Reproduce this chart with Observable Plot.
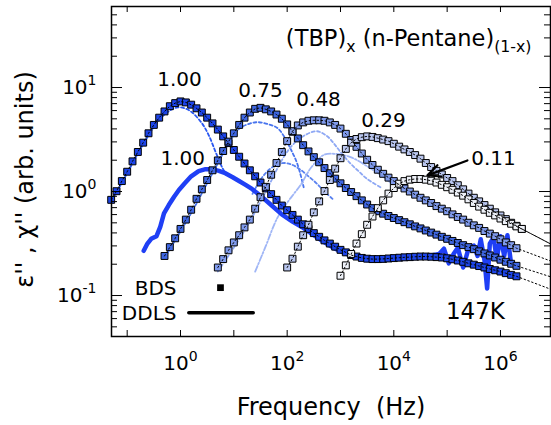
<!DOCTYPE html>
<html><head><meta charset="utf-8">
<script src="https://cdn.jsdelivr.net/npm/d3@7"></script>
<script src="https://cdn.jsdelivr.net/npm/@observablehq/plot@0.6"></script>
<style>
body{margin:0;background:#fff;}
#chart svg{display:block;}
</style>
</head><body><div id="chart"></div>
<script>
// ---------- data ----------
// measurement frequency grid, log10(Hz)
const logFreqGrid = [-1.3,-1.2,-1.1,-1.0,-0.9,-0.8,-0.7,-0.6,-0.5,-0.4,-0.3,-0.2,-0.1,0.0,0.1,0.2,0.3,0.4,0.5,0.6,0.7,0.8,0.9,1.0,1.1,1.2,1.3,1.4,1.5,1.6,1.7,1.8,1.9,2.0,2.1,2.2,2.3,2.4,2.5,2.6,2.7,2.8,2.9,3.0,3.1,3.2,3.3,3.4,3.5,3.6,3.7,3.8,3.9,4.0,4.1,4.2,4.3,4.4,4.5,4.6,4.7,4.8,4.9,5.0,5.1,5.2,5.3,5.4,5.5,5.6,5.7,5.8,5.9,6.0,6.1,6.2,6.3,6.4];

const seriesLabels = ["1.00","0.75","0.48","0.29","0.11"];
const seriesFirstIndex = [0, 10, 20, 33, 43];

const eps100 = [0.832,1.007,1.26,1.55,1.95,2.40,2.95,3.63,4.37,5.13,5.89,6.61,7.08,7.35,7.19,6.84,6.31,5.75,5.13,4.52,3.94,3.39,2.92,2.51,2.16,1.86,1.60,1.40,1.22,1.07,0.944,0.832,0.733,0.661,0.596,0.537,0.484,0.437,0.398,0.367,0.339,0.316,0.295,0.275,0.260,0.245,0.237,0.230,0.226,0.224,0.224,0.225,0.227,0.229,0.231,0.233,0.234,0.236,0.237,0.237,0.236,0.234,0.232,0.228,0.223,0.217,0.211,0.204,0.198,0.192,0.186,0.180,0.175,0.170,0.164,0.158,0.153];
const eps075 = [0.240,0.292,0.355,0.437,0.537,0.668,0.851,1.05,1.29,1.60,1.99,2.45,3.02,3.63,4.37,5.13,5.75,6.24,6.38,6.17,5.89,5.50,5.01,4.42,3.76,3.24,2.79,2.43,2.14,1.91,1.68,1.50,1.33,1.20,1.08,0.989,0.902,0.822,0.750,0.692,0.646,0.612,0.582,0.556,0.531,0.507,0.484,0.462,0.442,0.422,0.403,0.385,0.367,0.351,0.335,0.320,0.305,0.292,0.279,0.266,0.254,0.243,0.232,0.221,0.211,0.202,0.193];
const eps048 = [0.186,0.224,0.272,0.324,0.380,0.452,0.537,0.684,0.881,1.11,1.45,1.88,2.40,3.05,3.80,4.32,4.62,4.79,4.84,4.84,4.79,4.62,4.37,4.03,3.59,3.13,2.69,2.32,2.02,1.80,1.62,1.48,1.36,1.26,1.16,1.07,1.00,0.933,0.871,0.822,0.776,0.724,0.684,0.646,0.603,0.569,0.537,0.501,0.473,0.447,0.417,0.394,0.372,0.347,0.324,0.305,0.285];
const eps029 = [0.186,0.226,0.295,0.380,0.479,0.631,0.804,1.01,1.29,1.66,2.09,2.57,2.95,3.20,3.33,3.39,3.35,3.26,3.16,3.05,2.88,2.70,2.54,2.40,2.24,2.07,1.88,1.72,1.58,1.46,1.35,1.26,1.15,1.05,0.955,0.871,0.804,0.741,0.684,0.631,0.589,0.543,0.501,0.468,0.437];
const eps011 = [0.155,0.195,0.251,0.316,0.389,0.479,0.575,0.692,0.822,0.955,1.08,1.19,1.26,1.30,1.32,1.32,1.30,1.27,1.22,1.16,1.10,1.04,0.977,0.912,0.841,0.776,0.716,0.668,0.624,0.589,0.550,0.519,0.490,0.462,0.437];
const seriesValues = [eps100, eps075, eps048, eps029, eps011];

// fitted curves continue past the last point (value at 1e7 Hz)
const fitTailFreq = 1e7;
const fitTailEps = [0.112, 0.148, 0.209, 0.302, 0.302];

// DDLS susceptibility, x = 1.00
const ddlsLogF = [-0.69,-0.62,-0.55,-0.45,-0.38,-0.31,-0.22,-0.12,-0.03,0.08,0.2,0.34,0.47,0.59,0.72,0.84,0.97,1.09,1.22,1.34,1.5,1.7,1.9,2.1,2.3,2.5,2.7,2.9,3.2,3.5,3.8,4.1,4.4,4.7,4.85,4.94,5.03,5.12,5.2,5.3,5.4,5.5,5.57,5.63,5.7,5.75,5.8,5.87,5.93,6.0,6.07,6.13,6.2];
const ddlsEps = [0.269,0.316,0.351,0.372,0.457,0.617,0.741,0.891,1.035,1.20,1.40,1.57,1.64,1.64,1.58,1.50,1.38,1.27,1.16,1.06,0.912,0.741,0.603,0.513,0.447,0.380,0.324,0.282,0.240,0.219,0.220,0.229,0.240,0.243,0.251,0.282,0.204,0.251,0.288,0.186,0.282,0.302,0.240,0.347,0.219,0.117,0.316,0.363,0.224,0.372,0.240,0.380,0.200];

// model components [log10 f, eps]
const model100 = [[-1.3,0.80],[-1.0,1.5],[-0.7,2.85],[-0.4,4.9],[-0.2,6.0],[-0.05,6.45],[0.1,6.25],[0.22,5.75],[0.41,4.47],[0.53,3.47],[0.66,2.39],[0.78,1.71],[0.86,1.45]];
const model075 = [[-0.3,0.23],[0.2,0.62],[0.6,1.5],[1.0,3.5],[1.125,4.1],[1.3,4.5],[1.44,4.64],[1.6,4.5],[1.81,4.1],[1.94,3.4],[2.06,2.6],[2.19,1.85],[2.31,1.1]];
const model075b = [[1.35,0.95],[1.5,1.3],[1.65,1.6],[1.8,1.8],[1.95,1.88],[2.1,1.8],[2.25,1.62],[2.4,1.4],[2.55,1.2],[2.7,1.0],[2.85,0.85]];
const model048 = [[0.7,0.17],[1.2,0.42],[1.6,1.0],[1.9,2.0],[2.1,2.8],[2.3,3.4],[2.55,3.8],[2.75,3.4],[2.875,2.9],[3.0,2.4],[3.19,1.85],[3.35,1.55],[3.5,1.32],[3.75,1.1]];
const model048b = [[1.4,0.17],[1.6,0.3],[1.81,0.55],[2.0,0.78],[2.125,0.95],[2.25,1.15],[2.45,1.7],[2.69,2.25],[2.9,2.3],[3.19,2.14],[3.5,1.75],[3.81,1.37],[4.0,1.15]];

// annotations
const curveLabels = ["1.00","1.00","0.75","0.48","0.29","0.11"];
const curveLabelFreq = [0.955, 1.10, 31.6, 388, 6400, 7.4e5];
const curveLabelEps = [11.8, 2.08, 9.35, 7.67, 4.82, 2.08];
const arrow011 = {x1: 2.4e5, y1: 1.99, x2: 4.27e4, y2: 1.43};
const legendLabels = ["BDS","DDLS"];
const legendTextFreq = [0.841, 0.841];
const legendTextEps = [0.117, 0.0671];
const legendSquare = {f: 5.62, eps: 0.119};
const legendLine = [{f: 1.43, eps: 0.0682}, {f: 23.1, eps: 0.0682}];
const tempLabel = {text: "147K", f: 3.39e5, eps: 0.0702};

const title = "(TBP)_{x} (n-Pentane)_{(1-x)}";
const xLabel = "Frequency\u00a0 (Hz)";
const yLabel = "ε'' , χ'' (arb. units)";
const xTickLabels = [1, 100, 1e4, 1e6];
const xTickExp = ["0","2","4","6"];
const xMajorTicks = [0.1, 1, 10, 100, 1e3, 1e4, 1e5, 1e6];
const yTickLabels = [0.1, 1, 10];
const yTickExp = ["-1","0","1"];
const yMinorTicks = [0.05,0.06,0.07,0.08,0.09,0.2,0.3,0.4,0.5,0.6,0.7,0.8,0.9,2,3,4,5,6,7,8,9,20,30,40,50];

// ---------- styles ----------
const seriesColors = ["#1d45e8", "#3f67e2", "#7f9aec", "#b9c6ef", "#eef1f8"];

// ---------- build tables ----------
const rows = [];
seriesLabels.forEach((lab, s) => {
  seriesValues[s].forEach((v, i) => rows.push({series: lab, f: 10 ** logFreqGrid[seriesFirstIndex[s] + i], eps: v}));
});
const fitRows = [];
seriesLabels.forEach((lab, s) => {
  rows.filter(r => r.series === lab).forEach(r => fitRows.push(r));
  fitRows.push({series: lab, f: fitTailFreq, eps: fitTailEps[s]});
});
const ddls = ddlsLogF.map((lf, i) => ({f: 10 ** lf, eps: ddlsEps[i]}));
const toRows = arr => arr.map(([lf, e]) => ({f: 10 ** lf, eps: e}));
const labelRows = curveLabels.map((t, i) => ({text: t, f: curveLabelFreq[i], eps: curveLabelEps[i]}));
const legendRows = legendLabels.map((t, i) => ({text: t, f: legendTextFreq[i], eps: legendTextEps[i]}));

const W = 551, H = 425, mL = 111, mR = 1, mT = 6, mB = 89;
const plotW = W - mL - mR, plotH = H - mT - mB;
const xDomain = [10 ** -1.294, 10 ** 6.938];
const yDomain = [10 ** -1.394, 10 ** 1.779];

const chart = Plot.plot({
  width: W, height: H,
  marginLeft: mL, marginRight: mR, marginTop: mT, marginBottom: mB,
  style: {fontFamily: '"DejaVu Sans", sans-serif', fontSize: "20px", color: "black", background: "white"},
  x: {type: "log", domain: xDomain, axis: null},
  y: {type: "log", domain: yDomain, axis: null},
  marks: [
    // model components
    Plot.line(toRows(model100), {x: "f", y: "eps", stroke: "#2a58f2", strokeWidth: 1.8, strokeDasharray: "3,2.5", curve: "catmull-rom", clip: true}),
    Plot.line(toRows(model075), {x: "f", y: "eps", stroke: "#4874ee", strokeWidth: 1.8, strokeDasharray: "3,2.5", curve: "catmull-rom", clip: true}),
    Plot.line(toRows(model075b), {x: "f", y: "eps", stroke: "#5a82f0", strokeWidth: 1.8, strokeDasharray: "3,2.5", curve: "catmull-rom", clip: true}),
    Plot.line(toRows(model048), {x: "f", y: "eps", stroke: "#8ea8f4", strokeWidth: 1.8, strokeDasharray: "3,2.5", curve: "catmull-rom", clip: true}),
    Plot.line(toRows(model048b), {x: "f", y: "eps", stroke: "#a0b6f6", strokeWidth: 1.8, strokeDasharray: "6,2,1.5,2", curve: "catmull-rom", clip: true}),
    // DDLS
    Plot.line(ddls, {x: "f", y: "eps", stroke: "#1f3ff5", strokeWidth: 4.5, strokeLinejoin: "round", strokeLinecap: "round", clip: true}),
    // BDS squares
    ...seriesLabels.map((lab, s) => Plot.dot(rows.filter(r => r.series === lab), {x: "f", y: "eps", symbol: "square", r: 3.9, fill: seriesColors[s], stroke: "black", strokeWidth: 1})),
    // fits
    Plot.line(fitRows, {x: "f", y: "eps", z: "series", stroke: "black", strokeWidth: 1, strokeDasharray: "1.5,2.5", clip: true}),
    // curve labels
    Plot.text(labelRows, {x: "f", y: "eps", text: "text", fontSize: 20, textAnchor: "middle", lineAnchor: "middle"}),
    Plot.arrow([arrow011], {x1: "x1", y1: "y1", x2: "x2", y2: "y2", stroke: "black", strokeWidth: 2.2, headLength: 12, headAngle: 50}),
    // legend
    Plot.text(legendRows, {x: "f", y: "eps", text: "text", fontSize: 20, textAnchor: "end", lineAnchor: "middle"}),
    Plot.dot([legendSquare], {x: "f", y: "eps", symbol: "square", r: 3.8, fill: "black"}),
    Plot.line(legendLine, {x: "f", y: "eps", stroke: "black", strokeWidth: 3.5}),
    Plot.text([tempLabel], {x: "f", y: "eps", text: "text", fontSize: 23, textAnchor: "middle", lineAnchor: "middle"}),
    // title
    Plot.text([title], {frameAnchor: "top-right", dx: -19, dy: 39, textAnchor: "end", lineAnchor: "bottom", fontSize: 22.5}),
    // ticks (inward)
    Plot.ruleX(xMajorTicks, {x: d => d, insetTop: plotH - 6, stroke: "black"}),
    Plot.ruleX(xMajorTicks, {x: d => d, insetBottom: plotH - 6, stroke: "black"}),
    Plot.ruleY(yTickLabels, {y: d => d, insetRight: plotW - 11, stroke: "black"}),
    Plot.ruleY(yMinorTicks, {y: d => d, insetRight: plotW - 6, stroke: "black"}),
    Plot.ruleY(yTickLabels, {y: d => d, insetLeft: plotW - 11, stroke: "black"}),
    Plot.ruleY(yMinorTicks, {y: d => d, insetLeft: plotW - 6, stroke: "black"}),
    // tick labels
    Plot.text(xTickLabels, {x: d => d, frameAnchor: "bottom", dy: 33.5, lineAnchor: "bottom", textAnchor: "middle", fontSize: 20, text: (d, i) => "10^{" + xTickExp[i] + "}"}),
    Plot.text(yTickLabels, {y: d => d, frameAnchor: "left", dx: -15, lineAnchor: "middle", textAnchor: "end", fontSize: 20, text: (d, i) => "10^{" + yTickExp[i] + "}"}),
    // axis labels
    Plot.text([xLabel], {frameAnchor: "bottom", dy: 78, lineAnchor: "bottom", textAnchor: "middle", fontSize: 24}),
    Plot.text([yLabel], {frameAnchor: "left", dx: -86, dy: 8, rotate: -90, lineAnchor: "middle", textAnchor: "middle", fontSize: 24}),
    Plot.frame({stroke: "black", strokeWidth: 1.5})
  ]
});
document.getElementById("chart").appendChild(chart);

// rich text: _{sub} and ^{sup}
d3.select(chart).selectAll("text").each(function() {
  const s = this.textContent;
  if (!/[_^]\{/.test(s)) return;
  const base = parseFloat(getComputedStyle(this).fontSize) || 20;
  const el = d3.select(this);
  el.text(null);
  let offset = 0;
  const add = (txt, shift, small) => {
    const t = el.append("tspan").text(txt);
    if (shift - offset !== 0) t.attr("dy", shift - offset);
    offset = shift;
    if (small) t.attr("font-size", base * 0.7);
  };
  const re = /([_^])\{([^}]*)\}/g;
  let last = 0, m;
  while ((m = re.exec(s))) {
    if (m.index > last) add(s.slice(last, m.index), 0, false);
    add(m[2], m[1] === "^" ? -base * 0.45 : base * 0.3, true);
    last = re.lastIndex;
  }
  if (last < s.length) add(s.slice(last), 0, false);
});
</script>
</body></html>
